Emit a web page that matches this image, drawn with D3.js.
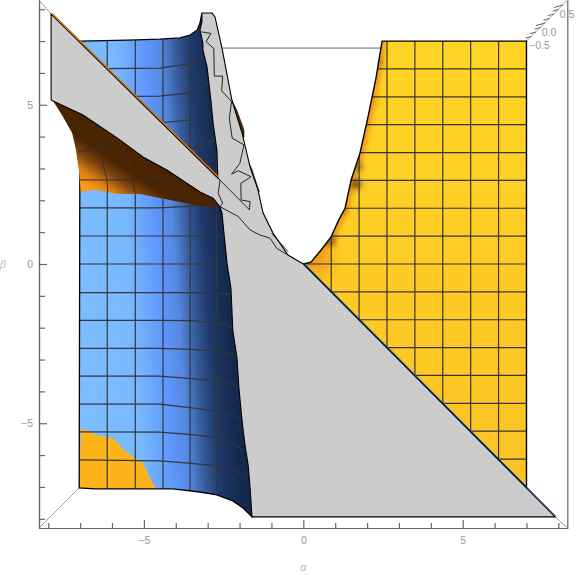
<!DOCTYPE html>
<html>
<head>
<meta charset="utf-8">
<script src="https://cdn.jsdelivr.net/npm/d3@7"></script>
<style>
  body { margin: 0; background: #fff; }
  text { font-family: "Liberation Sans", sans-serif; font-size: 10.5px; fill: #999; }
</style>
</head>
<body>
<div id="chart"></div>
<script>
// outlines, all as [alpha, beta]
const yellowEdge = [[0,0],[0.24,0.06],[0.56,0.44],[0.87,0.85],[1.12,1.4],[1.31,1.75],[1.5,2.64],[1.78,3.49],[2.03,4.62],[2.28,5.84],[2.47,7]];
const yellowCorners = [[7,7],[7,-7]];
const blueOutline = [[-7,7],[-5.5,7.03],[-4.5,7.06],[-3.87,7.1],[-3.55,7.19],[-3.33,7.35],[-3.24,7.57],[-3.18,7.88],[-2.4,2],[-1.5,-3],[-1.5,-7.9],[-1.61,-7.94],[-1.89,-7.66],[-2.21,-7.44],[-2.71,-7.25],[-3.24,-7.16],[-4.09,-7.06],[-6.53,-7.06],[-7.03,-7.03]];
const orangeCorner = [[-6.97,-5.15],[-6.38,-5.4],[-5.97,-5.46],[-5.59,-5.87],[-5.28,-6.09],[-5.03,-6.25],[-4.81,-6.72],[-4.62,-7.06],[-7.03,-7.03]];
const brownOutline = [[-7.91,5.15],[-5,4],[-2.61,1.79],[-3.24,1.82],[-3.87,1.95],[-4.5,2.07],[-5.12,2.2],[-5.84,2.2],[-6.28,2.29],[-6.69,2.32],[-6.97,2.23],[-7.03,2.86],[-7.13,3.58],[-7.25,4.11],[-7.57,4.68],[-7.85,5.12]];
const brownSlivers = [
  [[-2.27,5.2],[-2.09,4.84],[-1.86,4.21],[-1.86,4],[-1.93,3.79],[-2.2,4.6]],
  [[-1.8,3.37],[-1.62,3],[-1.38,2.27],[-1.46,2.2],[-1.67,2.74]]
];
const grayOutline = [[7.9,-7.94],[-1.61,-7.94],[-1.67,-7.03],[-1.73,-6.31],[-1.83,-5.68],[-1.92,-4.93],[-2.02,-3.89],[-2.08,-2.95],[-2.21,-2.1],[-2.27,-0.75],[-2.39,0],[-2.49,0.97],[-2.55,1.6],[-2.61,1.79],[-2.83,2.07],[-3.24,2.26],[-4.28,2.95],[-5.03,3.36],[-5.84,3.96],[-6.91,4.68],[-7.85,5.12],[-7.91,5.15],[-7.91,7.85],[-2.68,2.7],[-2.71,3.58],[-2.83,4.43],[-2.9,5.15],[-3.02,6.19],[-3.15,6.72],[-3.15,6.94],[-3.24,7.35],[-3.18,7.6],[-3.18,7.88],[-2.86,7.88],[-2.77,7.76],[-2.55,6.78],[-2.24,5.15],[-1.92,4.11],[-1.67,3.05],[-1.42,2.32],[-1.26,1.6],[-0.95,0.97],[-0.48,0.28],[0,0]];
const grayInnerLines = [
  [[-3.19,7.29],[-2.9,7.24],[-3.05,6.98],[-2.81,6.77],[-2.79,5.9],[-2.53,5.9],[-2.56,5.44],[-2.25,5.1],[-2.32,4.57],[-2.23,3.95],[-1.86,3.74],[-1.99,3.16],[-2.25,2.82],[-2.04,2.93],[-1.64,2.74],[-1.96,2.53],[-1.95,2.01],[-1.67,1.96],[-1.69,1.7],[-2.67,2.69]],
  [[-2.61,1.8],[-2.04,1.49],[-1.67,1.07],[-1.36,0.91],[-1.04,0.81],[-0.83,0.49],[-0.48,0.28]],
  [[-0.99,0.96],[-0.48,0.39]],
  [[-2.77,2.79],[-2.61,2.64],[-2.67,2.22],[-2.53,1.91],[-2.61,1.8]]
];
const bandEdge = [[-7.91,7.85],[-2.68,2.7]];
const lowerEdge = [[0,0],[7.9,-7.94]];
const backLine = [[-2.57,6.78],[2.44,6.78]];

// mesh
const yellowCols = [0.875,1.75,2.625,3.5,4.375,5.25,6.125];
const yellowRows = [6.125,5.25,4.375,3.5,2.625,1.75,0.875,0,-0.875,-1.75,-2.625,-3.5,-4.375,-5.25,-6.125];
const blueCols = [-6.15,-5.27,-4.4,-3.55,-2.72];
const blueRowAlphas = [-7,-4.5,-3.5,-2.7,-2.2,-1.9];
const blueRows = [
  [6.13,6.15,6.3,6.9,6.9,6.9],
  [5.25,5.27,5.38,5.85,5.9,5.9],
  [4.42,4.43,4.53,4.75,4.9,4.9],
  [3.56,3.58,3.63,3.93,4,4],
  [1.76,1.76,1.82,1.86,1.9,1.9],
  [0.88,0.88,0.88,0.88,0.87,0.87],
  [0,0,0,0,0,0],
  [-0.9,-0.9,-0.9,-0.92,-0.96,-0.96],
  [-1.77,-1.77,-1.78,-1.85,-2,-2.05],
  [-2.65,-2.65,-2.68,-2.74,-2.85,-2.95],
  [-3.52,-3.52,-3.6,-3.67,-3.8,-3.89],
  [-4.4,-4.4,-4.52,-4.62,-4.75,-4.93],
  [-5.27,-5.28,-5.36,-5.44,-5.62,-5.87],
  [-6.15,-6.18,-6.26,-6.34,-6.47,-6.62]
];
const brownMesh = [
  [[-7.07,3.52],[-6.38,3.64],[-5.75,3.96]],
  [[-7,2.64],[-5.34,2.64],[-4.5,2.73],[-3.87,2.7],[-3.02,2.23],[-2.71,1.92]],
  [[-6.91,4.52],[-6.44,3.8],[-6.16,2.64],[-6.13,2.23]],
  [[-5.85,3.99],[-5.5,3.36],[-5.28,2.23]],
  [[-4.9,3.36],[-4.5,2.73],[-4.4,2.1]],
  [[-3.97,2.86],[-3.55,1.92]]
];
// dark patches along the left edge of the yellow sheet: alpha, beta, radius, colour
const yellowBlobs = [
  [1.66,2.51,0.14,"#4a2606"],[1.72,3.05,0.11,"#6a3a08"],[0.87,0.72,0.14,"#7a4a0c"],
  [2.38,6.34,0.09,"#8a5a10"],[2.2,5.15,0.1,"#e89a18"],[1.95,4.52,0.1,"#e89a18"],
  [1.2,1.72,0.12,"#a86a10"]
];
const originGlow = [0.4,0.1,0.45,"#f59a1a"];

// colour ramps
const blueStops = [[0,"#7cbcff"],[0.28,"#78b8fd"],[0.45,"#5e96fb"],[0.54,"#5688e0"],[0.63,"#345a98"],[0.71,"#1e3a6a"],[0.82,"#15294e"],[1,"#14264a"]];
const blueRamp = [[-7,0],[-1.5,0.37]];
const brownStops = [[0,"#f89a14"],[0.3,"#d87c10"],[0.65,"#7a4310"],[1,"#4a2400"]];
const brownRamp = [[-6.38,2.17],[-5.75,3.11]];
const yellowStops = [[0,"#ffd524"],[1,"#fcc224"]];
const yellowRamp = [[0,7],[0,-7]];

// axes
const majorTicks = [-5,0,5];
const minorTicks = [-8,-7,-6,-4,-3,-2,-1,1,2,3,4,6,7,8];
const zTicks = [-0.5,-0.375,-0.25,-0.125,0,0.125,0.25,0.375,0.5];
const zLabels = [-0.5,0,0.5];

const width = 576;
const height = 575;

const x = d3.scaleLinear().domain([-8.29, 8.29]).range([39, 567.6]);
const y = d3.scaleLinear().domain([-8.29, 8.29]).range([528, 0]);
const zx = d3.scaleLinear().domain([-0.5, 0.5]).range([527, 563]);
const zy = d3.scaleLinear().domain([-0.5, 0.5]).range([41, 5]);

const line = d3.line().x(d => x(d[0])).y(d => y(d[1]));
const closed = pts => line(pts) + "Z";

const svg = d3.select("#chart").append("svg")
  .attr("width", width)
  .attr("height", height)
  .style("display", "block");
const defs = svg.append("defs");

function addGradient(id, ramp, stops) {
  defs.append("linearGradient")
    .attr("id", id)
    .attr("gradientUnits", "userSpaceOnUse")
    .attr("x1", x(ramp[0][0])).attr("y1", y(ramp[0][1]))
    .attr("x2", x(ramp[1][0])).attr("y2", y(ramp[1][1]))
    .selectAll("stop")
    .data(stops)
    .join("stop")
    .attr("offset", d => d[0])
    .attr("stop-color", d => d[1]);
}
addGradient("blue", blueRamp, blueStops);
addGradient("brown", brownRamp, brownStops);
addGradient("yellow", yellowRamp, yellowStops);

const yellowOutline = yellowEdge.concat(yellowCorners);
defs.append("clipPath").attr("id", "clip-yellow").append("path").attr("d", closed(yellowOutline));
defs.append("clipPath").attr("id", "clip-blue").append("path").attr("d", closed(blueOutline));
defs.append("clipPath").attr("id", "clip-brown").append("path").attr("d", closed(brownOutline));
defs.append("filter").attr("id", "soft")
  .attr("x", "-200%").attr("y", "-200%").attr("width", "500%").attr("height", "500%")
  .append("feGaussianBlur").attr("stdDeviation", 3);
defs.append("filter").attr("id", "soft-wide")
  .attr("x", "-200%").attr("y", "-200%").attr("width", "500%").attr("height", "500%")
  .append("feGaussianBlur").attr("stdDeviation", 8);
defs.append("filter").attr("id", "soft-edge")
  .attr("filterUnits", "userSpaceOnUse").attr("x", 280).attr("y", 20).attr("width", 130).attr("height", 270)
  .append("feGaussianBlur").attr("stdDeviation", 2.5);

// frame and ticks
function drawAxis(axis, tx, ty, cls) {
  const g = svg.append("g").attr("class", cls).attr("transform", `translate(${tx},${ty})`).call(axis);
  g.selectAll("path,line").attr("stroke", "#666").attr("stroke-width", 1.2);
  g.selectAll("text").style("fill", "#999").style("font-size", "10.5px")
    .style("font-family", '"Liberation Sans", sans-serif');
  return g;
}
const minus = d => String(d).replace("-", "\u2212");
drawAxis(d3.axisBottom(x).tickValues(minorTicks).tickSizeInner(-5).tickSizeOuter(0).tickFormat(""), 0, 528, "x-minor");
drawAxis(d3.axisBottom(x).tickValues(majorTicks).tickSizeInner(-8).tickSizeOuter(0).tickPadding(9).tickFormat(minus), 0, 528, "x-major");
drawAxis(d3.axisLeft(y).tickValues(minorTicks).tickSizeInner(-6).tickSizeOuter(0).tickFormat(""), 39, 0, "y-minor");
drawAxis(d3.axisLeft(y).tickValues(majorTicks).tickSizeInner(-8).tickSizeOuter(0).tickPadding(6).tickFormat(minus), 39, 0, "y-major");
drawAxis(d3.axisRight(y).tickValues([]).tickSizeOuter(0), 567.3, 0, "y-right");

svg.append("text").attr("x", x(0)).attr("y", 571).attr("text-anchor", "middle")
  .style("font-style", "italic").style("fill", "#bbb").text("\u03b1");
svg.append("text").attr("x", 3).attr("y", 268).attr("text-anchor", "middle")
  .style("font-style", "italic").style("fill", "#bbb").text("\u03b2");

// box edges going back
const boxEdges = [
  [[-8.29,-8.29],[-7.03,-7.03]],
  [[8.29,-8.29],[7.9,-7.94]],
  [[-8.29,8.29],[-7.91,7.85]],
  [[8.29,8.29],[7,7]]
];
svg.append("g").selectAll("path").data(boxEdges).join("path")
  .attr("d", line).attr("fill", "none").attr("stroke", "#777").attr("stroke-width", 0.7);
svg.append("path").attr("d", line(backLine)).attr("fill", "none").attr("stroke", "#666").attr("stroke-width", 1);

// z axis ticks on the far corner
svg.append("g").selectAll("line").data(zTicks).join("line")
  .attr("x1", d => zx(d)).attr("y1", d => zy(d))
  .attr("x2", d => zx(d) - (zLabels.includes(d) ? 9 : 6)).attr("y2", d => zy(d) + (zLabels.includes(d) ? 2.5 : 1.6))
  .attr("stroke", "#666");
svg.append("g").selectAll("text").data(zLabels).join("text")
  .attr("x", d => zx(d) + (d < 0 ? 2 : 4))
  .attr("y", d => zy(d) + (d < 0 ? 8 : 13))
  .attr("text-anchor", d => d < 0 ? "start" : "middle")
  .text(d => d < 0 ? "\u22120.5" : d3.format(".1f")(d));

// blue sheet
svg.append("path").attr("d", closed(blueOutline)).attr("fill", "url(#blue)");
svg.append("path").attr("d", closed(orangeCorner)).attr("fill", "#ffb31a");
const blueMesh = svg.append("g").attr("clip-path", "url(#clip-blue)")
  .attr("fill", "none").attr("stroke", "#33363c").attr("stroke-width", 1.2);
blueMesh.selectAll(".row").data(blueRows).join("path").attr("class", "row")
  .attr("d", row => line(row.map((b, i) => [blueRowAlphas[i], b])));
blueMesh.selectAll(".col").data(blueCols).join("line").attr("class", "col")
  .attr("x1", d => x(d)).attr("x2", d => x(d)).attr("y1", y(7.2)).attr("y2", y(-7.1));
svg.append("path").attr("d", closed(blueOutline)).attr("fill", "none").attr("stroke", "#000").attr("stroke-width", 1.3);

// yellow sheet
svg.append("path").attr("d", closed(yellowOutline)).attr("fill", "url(#yellow)");
const yellowShade = svg.append("g").attr("clip-path", "url(#clip-yellow)");
yellowShade.append("circle")
  .attr("cx", x(originGlow[0])).attr("cy", y(originGlow[1]))
  .attr("r", originGlow[2] * 31.9).attr("fill", originGlow[3]).attr("filter", "url(#soft-wide)");
yellowShade.append("path").attr("d", line(yellowEdge)).attr("fill", "none")
  .attr("stroke", "#ee9418").attr("stroke-width", 8).attr("filter", "url(#soft-edge)");
yellowShade.selectAll(".blob").data(yellowBlobs).join("circle").attr("class", "blob")
  .attr("cx", d => x(d[0])).attr("cy", d => y(d[1]))
  .attr("r", d => d[2] * 31.9).attr("fill", d => d[3]).attr("filter", "url(#soft)");
const yellowMesh = yellowShade.append("g").attr("stroke", "#33363c").attr("stroke-width", 1.2);
yellowMesh.selectAll(".col").data(yellowCols).join("line").attr("class", "col")
  .attr("x1", d => x(d)).attr("x2", d => x(d)).attr("y1", y(7)).attr("y2", y(-7));
yellowMesh.selectAll(".row").data(yellowRows).join("line").attr("class", "row")
  .attr("x1", x(0)).attr("x2", x(7)).attr("y1", d => y(d)).attr("y2", d => y(d));
svg.append("path").attr("d", closed(yellowOutline)).attr("fill", "none").attr("stroke", "#000").attr("stroke-width", 1.4);

// brown flap
svg.append("path").attr("d", closed(brownOutline)).attr("fill", "url(#brown)");
svg.append("g").attr("clip-path", "url(#clip-brown)").selectAll("path").data(brownMesh).join("path")
  .attr("d", line).attr("fill", "none").attr("stroke", "#3a3028").attr("stroke-width", 1);
svg.append("g").selectAll("path").data(brownSlivers).join("path")
  .attr("d", closed).attr("fill", "#4a2400").attr("stroke", "#2a1500").attr("stroke-width", 0.6);

// gray cut region on top
svg.append("path").attr("d", closed(grayOutline))
  .attr("fill", "#cccccc").attr("stroke", "#000").attr("stroke-width", 1.1);
svg.append("g").selectAll("path").data(grayInnerLines).join("path")
  .attr("d", line).attr("fill", "none").attr("stroke", "#111").attr("stroke-width", 0.9);
svg.append("path").attr("d", line(bandEdge)).attr("fill", "none").attr("stroke", "#d8740c").attr("stroke-width", 1.4)
  .attr("transform", "translate(0.8,-0.8)");
svg.append("path").attr("d", line(lowerEdge)).attr("fill", "none").attr("stroke", "#2a5db0").attr("stroke-width", 1)
  .attr("transform", "translate(0.8,-0.6)");
</script>
</body>
</html>
